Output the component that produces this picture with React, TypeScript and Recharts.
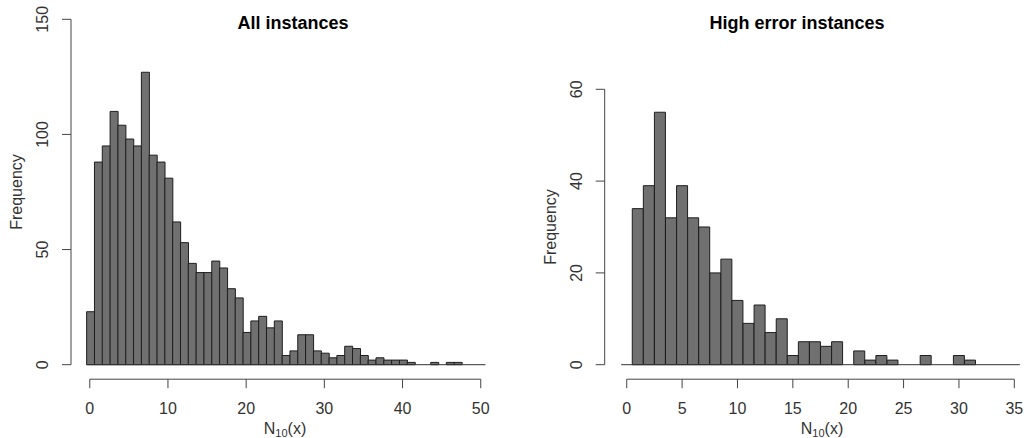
import React from 'react';
import { BarChart, Bar, XAxis, YAxis, ReferenceLine } from 'recharts';

// ---- data: "All instances" ----
const allCounts = [
  23, 88, 95, 110, 104, 98, 95, 127, 91, 88, 81, 62, 53, 44, 40, 40, 45, 42, 33, 29,
  14, 19, 21, 16, 19, 4, 6, 13, 13, 6, 5, 3, 4, 8, 7, 4, 2, 3, 2, 2,
  2, 1, 0, 0, 1, 0, 1, 1, 0, 0, 0,
];
const allFirstBreak = -0.4;
const allXTicks = [0, 10, 20, 30, 40, 50];
const allYTicks = [0, 50, 100, 150];

// ---- data: "High error instances" ----
const highCounts = [
  0, 34, 39, 55, 32, 39, 32, 30, 20, 23, 14, 9, 13, 7, 10, 2, 5, 5, 4, 5,
  0, 3, 1, 2, 1, 0, 0, 2, 0, 0, 2, 1, 0, 0, 0, 0,
];
const highFirstBreak = -0.5;
const highXTicks = [0, 5, 10, 15, 20, 25, 30, 35];
const highYTicks = [0, 20, 40, 60];

const binWidth = 1;
const FONT = '"Liberation Sans", Arial, Helvetica, sans-serif';
const AXIS = '#444';
const TEXT = '#333';

const toBins = (counts: number[], first: number) =>
  counts.map((v, i) => ({ x: first + i * binWidth + binWidth / 2, v }));

const XTick = (props: any) => {
  const { x, y, payload } = props;
  return (
    <text x={x} y={y} textAnchor="middle" fontSize={16} fill={TEXT} fontFamily={FONT}>
      {payload.value}
    </text>
  );
};

const YTick = (props: any) => {
  const { x, y, payload } = props;
  return (
    <text
      x={x}
      y={y}
      transform={`rotate(-90, ${x}, ${y})`}
      textAnchor="middle"
      fontSize={16}
      fill={TEXT}
      fontFamily={FONT}
    >
      {payload.value}
    </text>
  );
};

type PanelProps = {
  counts: number[];
  firstBreak: number;
  xTicks: number[];
  yTicks: number[];
  xDomain: [number, number];
  yDomain: [number, number];
  width: number;
  height: number;
  margin: { top: number; right: number; bottom: number; left: number };
  left: number;
};

const Panel = ({ counts, firstBreak, xTicks, yTicks, xDomain, yDomain, width, height, margin, left }: PanelProps) => {
  const data = toBins(counts, firstBreak);
  const lastBreak = firstBreak + counts.length * binWidth;
  return (
    <div style={{ position: 'absolute', left, top: 0 }}>
      <BarChart width={width} height={height} data={data} margin={margin} barCategoryGap={0} barGap={0}>
        <XAxis
          dataKey="x"
          type="number"
          domain={xDomain}
          allowDataOverflow
          ticks={xTicks}
          interval={0}
          height={1}
          axisLine={false}
          tickLine={{ stroke: AXIS }}
          tickSize={9}
          tickMargin={26}
          tick={XTick}
        />
        <YAxis
          type="number"
          domain={yDomain}
          allowDataOverflow
          ticks={yTicks}
          interval={0}
          width={1}
          axisLine={false}
          tickLine={{ stroke: AXIS }}
          tickSize={9}
          tickMargin={14}
          tick={YTick}
        />
        <ReferenceLine
          segment={[{ x: firstBreak, y: 0 }, { x: lastBreak, y: 0 }]}
          stroke="#333"
          strokeWidth={1}
          ifOverflow="visible"
        />
        <Bar dataKey="v" fill="#707070" stroke="#1e1e1e" strokeWidth={1} isAnimationActive={false} />
        <ReferenceLine
          segment={[{ x: xTicks[0], y: yDomain[0] }, { x: xTicks[xTicks.length - 1], y: yDomain[0] }]}
          stroke={AXIS}
          strokeWidth={1}
          ifOverflow="visible"
        />
        <ReferenceLine
          segment={[{ x: xDomain[0], y: yTicks[0] }, { x: xDomain[0], y: yTicks[yTicks.length - 1] }]}
          stroke={AXIS}
          strokeWidth={1}
          ifOverflow="visible"
        />
      </BarChart>
    </div>
  );
};

const XLabel = ({ cx }: { cx: number }) => (
  <text x={cx} y={434} textAnchor="middle" fontSize={16} fill={TEXT} fontFamily={FONT}>
    N
    <tspan fontSize={11} dy={3}>10</tspan>
    <tspan fontSize={16} dy={-3}>(x)</tspan>
  </text>
);

const YLabel = ({ x, y }: { x: number; y: number }) => (
  <text
    x={x}
    y={y}
    transform={`rotate(-90, ${x}, ${y})`}
    textAnchor="middle"
    fontSize={16}
    fill={TEXT}
    fontFamily={FONT}
  >
    Frequency
  </text>
);

export default function App() {
  return (
    <div style={{ position: 'absolute', left: 0, top: 0, width: 1031, height: 438, background: '#fff', overflow: 'hidden' }}>
      <Panel
        counts={allCounts}
        firstBreak={allFirstBreak}
        xTicks={allXTicks}
        yTicks={allYTicks}
        xDomain={[-2.4, 52.5]}
        yDomain={[-6.3, 150]}
        width={520}
        height={438}
        margin={{ top: 19.3, right: 19.7, bottom: 57.8, left: 70 }}
        left={0}
      />
      <Panel
        counts={highCounts}
        firstBreak={highFirstBreak}
        xTicks={highXTicks}
        yTicks={highYTicks}
        xDomain={[-1.99, 36.3]}
        yDomain={[-3.16, 75]}
        width={511}
        height={438}
        margin={{ top: 20.45, right: 2.3, bottom: 57.8, left: 83.7 }}
        left={520}
      />
      <svg width={1031} height={438} style={{ position: 'absolute', left: 0, top: 0, pointerEvents: 'none' }}>
        <text x={293} y={29} textAnchor="middle" fontSize={18} fontWeight="bold" fill="#000" fontFamily={FONT}>
          All instances
        </text>
        <text x={797} y={29} textAnchor="middle" fontSize={18} fontWeight="bold" fill="#000" fontFamily={FONT}>
          High error instances
        </text>
        <XLabel cx={285} />
        <XLabel cx={822} />
        <YLabel x={22} y={192} />
        <YLabel x={556} y={227} />
      </svg>
    </div>
  );
}
